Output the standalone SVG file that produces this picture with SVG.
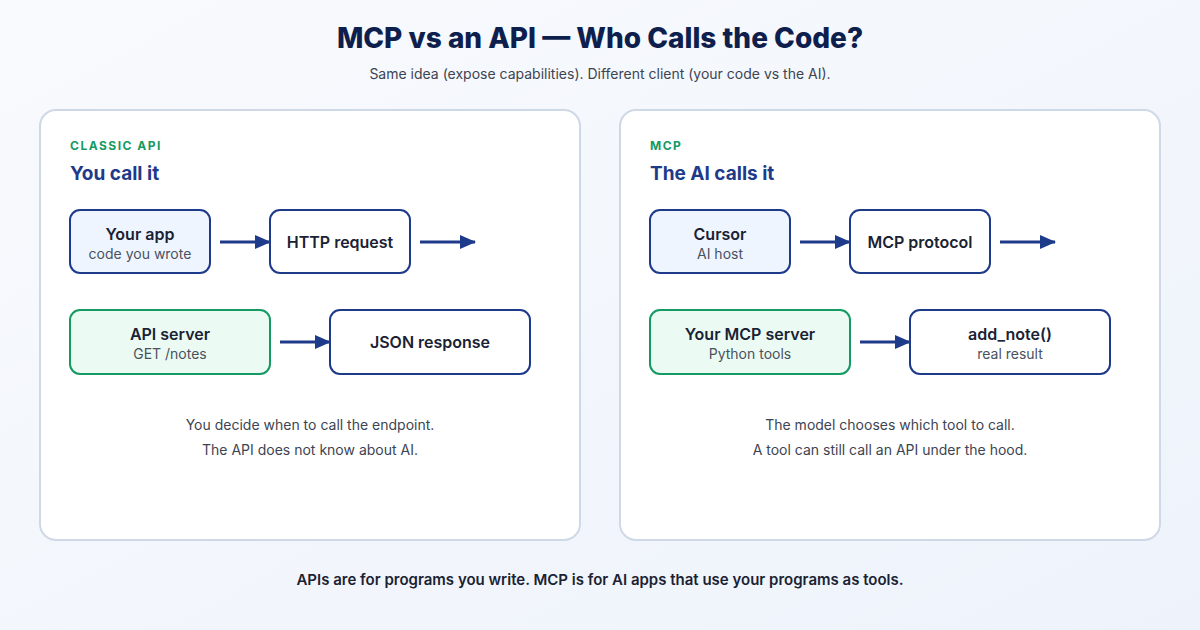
<svg xmlns="http://www.w3.org/2000/svg" width="1200" height="630" viewBox="0 0 1200 630">
<defs>
<linearGradient id="bg" x1="0" y1="0" x2="1" y2="1"><stop offset="0" stop-color="#f8fafd"/><stop offset="1" stop-color="#eef3fb"/></linearGradient>
<marker id="ah" markerWidth="16" markerHeight="14" refX="15" refY="7" orient="auto" markerUnits="userSpaceOnUse"><path d="M0,0 L16,7 L0,14 z" fill="#1e3a8a"/></marker>
</defs>
<style>
text{font-family:Inter,"Noto Sans","Liberation Sans",sans-serif}
.panel{fill:#fff;stroke:#cfd8e6;stroke-width:2}
.blue{fill:#eef5ff;stroke:#1e3a8a;stroke-width:2}
.white{fill:#fff;stroke:#1e3a8a;stroke-width:2}
.green{fill:#ebfbf3;stroke:#159a63;stroke-width:2}
.t{font-size:16px;font-weight:600;fill:#1a2233;text-anchor:middle}
.s{font-size:14px;fill:#4a5160;text-anchor:middle}
.note{font-size:14px;fill:#3d4452;text-anchor:middle}
.tag{font-size:12px;font-weight:700;fill:#159a63;letter-spacing:1.5px}
.h{font-size:19px;font-weight:700;fill:#1e3a8a}
.c{stroke:#1e3a8a;stroke-width:3;fill:none;marker-end:url(#ah)}
</style>
<rect width="1200" height="630" fill="url(#bg)"/>
<text x="600" y="48" text-anchor="middle" font-size="28" font-weight="800" fill="#0f1f4d">MCP vs an API — Who Calls the Code?</text>
<text x="600" y="79" text-anchor="middle" font-size="14" fill="#3d4452">Same idea (expose capabilities). Different client (your code vs the AI).</text>
<rect class="panel" x="40" y="110" width="540" height="430" rx="16"/>
<rect class="panel" x="620" y="110" width="540" height="430" rx="16"/>
<text class="tag" x="70" y="150">CLASSIC API</text>
<text class="h" x="70" y="180">You call it</text>
<text class="tag" x="650" y="150">MCP</text>
<text class="h" x="650" y="180">The AI calls it</text>
<g id="connectors">
<line class="c" x1="220" y1="242" x2="270" y2="242"/>
<line class="c" x1="420" y1="242" x2="475" y2="242"/>
<line class="c" x1="280" y1="342" x2="330" y2="342"/>
<line class="c" x1="800" y1="242" x2="850" y2="242"/>
<line class="c" x1="1000" y1="242" x2="1055" y2="242"/>
<line class="c" x1="860" y1="342" x2="910" y2="342"/>
</g>
<g id="yourapp"><rect class="blue" x="70" y="210" width="140" height="63" rx="10"/><text class="t" x="140" y="240">Your app</text><text class="s" x="140" y="259">code you wrote</text></g>
<g id="http"><rect class="white" x="270" y="210" width="140" height="63" rx="10"/><text class="t" x="340" y="248">HTTP request</text></g>
<g id="apiserver"><rect class="green" x="70" y="310" width="200" height="64" rx="10"/><text class="t" x="170" y="340">API server</text><text class="s" x="170" y="359">GET /notes</text></g>
<g id="json"><rect class="white" x="330" y="310" width="200" height="64" rx="10"/><text class="t" x="430" y="348">JSON response</text></g>
<g id="cursor"><rect class="blue" x="650" y="210" width="140" height="63" rx="10"/><text class="t" x="720" y="240">Cursor</text><text class="s" x="720" y="259">AI host</text></g>
<g id="mcpproto"><rect class="white" x="850" y="210" width="140" height="63" rx="10"/><text class="t" x="920" y="248">MCP protocol</text></g>
<g id="mcpserver"><rect class="green" x="650" y="310" width="200" height="64" rx="10"/><text class="t" x="750" y="340">Your MCP server</text><text class="s" x="750" y="359">Python tools</text></g>
<g id="addnote"><rect class="white" x="910" y="310" width="200" height="64" rx="10"/><text class="t" x="1010" y="340">add_note()</text><text class="s" x="1010" y="359">real result</text></g>
<text class="note" x="310" y="430">You decide when to call the endpoint.</text>
<text class="note" x="310" y="455">The API does not know about AI.</text>
<text class="note" x="890" y="430">The model chooses which tool to call.</text>
<text class="note" x="890" y="455">A tool can still call an API under the hood.</text>
<text x="600" y="585" text-anchor="middle" font-size="15" font-weight="600" fill="#1a2233">APIs are for programs you write. MCP is for AI apps that use your programs as tools.</text>
</svg>
